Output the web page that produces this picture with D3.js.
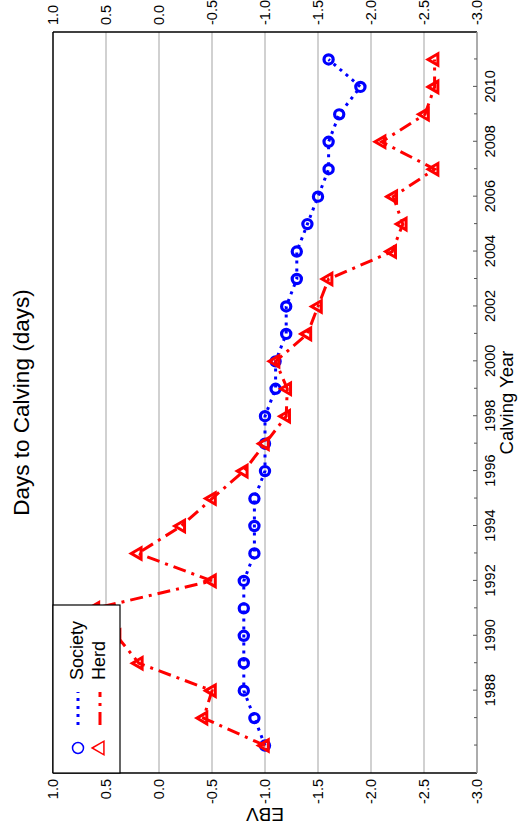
<!DOCTYPE html>
<html><head><meta charset="utf-8">
<script src="https://cdn.jsdelivr.net/npm/d3@7"></script>
<style>body{margin:0;background:#fff}</style>
</head><body>
<script>
// ---- data ----
const years = [1986,1987,1988,1989,1990,1991,1992,1993,1994,1995,1996,1997,1998,1999,2000,2001,2002,2003,2004,2005,2006,2007,2008,2009,2010,2011];
const society = [-1.0,-0.9,-0.8,-0.8,-0.8,-0.8,-0.8,-0.9,-0.9,-0.9,-1.0,-1.0,-1.0,-1.1,-1.1,-1.2,-1.2,-1.3,-1.3,-1.4,-1.5,-1.6,-1.6,-1.7,-1.9,-1.6];
const herd = [-1.0,-0.42,-0.5,0.19,0.4,0.6,-0.5,0.2,-0.21,-0.5,-0.8,-1.0,-1.2,-1.21,-1.1,-1.4,-1.5,-1.6,-2.2,-2.3,-2.21,-2.6,-2.1,-2.51,-2.6,-2.6];
const ebvTicks = [1.0,0.5,0.0,-0.5,-1.0,-1.5,-2.0,-2.5,-3.0];
const yearLabels = [1988,1990,1992,1994,1996,1998,2000,2002,2004,2006,2008,2010];
const seriesNames = ["Society","Herd"];
const title = "Days to Calving (days)";
const xTitle = "Calving Year";
const yTitle = "EBV";

// ---- layout (drawn landscape, then rotated) ----
const W = 518, H = 829;
const font = "'Liberation Sans', Arial, Helvetica, sans-serif";
const svg = d3.select("body").append("svg").attr("width", W).attr("height", H)
  .style("font-family", font);
svg.append("rect").attr("width", W).attr("height", H).attr("fill", "#fff");
const g = svg.append("g").attr("transform", `translate(0,${H}) rotate(-90)`);

const P = {left: 56, right: 797, top: 53, bottom: 477};
const x = d3.scaleLinear().domain([1985, 2012]).range([P.left, P.right]);
const y = d3.scaleLinear().domain([1.0, -3.0]).range([P.top, P.bottom]);

// gridlines
g.append("g").selectAll("line").data(ebvTicks.filter(t => t < 1 && t > -3)).join("line")
  .attr("x1", P.left).attr("x2", P.right)
  .attr("y1", d => y(d)).attr("y2", d => y(d))
  .attr("stroke", "#b8b8b8").attr("stroke-width", 1.3);

// frame
g.append("line").attr("x1", P.left).attr("x2", P.right).attr("y1", P.top).attr("y2", P.top).attr("stroke", "#000").attr("stroke-width", 1.5);
g.append("line").attr("x1", P.left).attr("x2", P.left).attr("y1", P.top).attr("y2", P.bottom).attr("stroke", "#000").attr("stroke-width", 1.5);
g.append("line").attr("x1", P.right).attr("x2", P.right).attr("y1", P.top).attr("y2", P.bottom).attr("stroke", "#000").attr("stroke-width", 1.5);
g.append("line").attr("x1", P.left).attr("x2", P.right).attr("y1", P.bottom).attr("y2", P.bottom).attr("stroke", "#909090").attr("stroke-width", 1.5);

// year axis
const yearAxis = d3.axisBottom(x).tickValues(years).tickSize(-4).tickPadding(8)
  .tickFormat(d => yearLabels.includes(d) ? String(d) : "");
const ya = g.append("g").attr("transform", `translate(0,${P.bottom})`).call(yearAxis);
ya.select(".domain").remove();
ya.selectAll(".tick line").attr("stroke", "#555").attr("y2", d => yearLabels.includes(d) ? -4 : -3);
ya.selectAll("text").attr("font-size", 14.5).attr("font-family", font).attr("fill", "#000");
ya.attr("font-family", font);

// EBV axes
const fmt = d => d.toFixed(1);
const la = g.append("g").attr("transform", `translate(${P.left},0)`)
  .call(d3.axisLeft(y).tickValues(ebvTicks).tickSize(0).tickPadding(6).tickFormat(fmt));
la.select(".domain").remove();
la.selectAll("text").attr("font-size", 14.5).attr("font-family", font).attr("fill", "#000");
const ra = g.append("g").attr("transform", `translate(${P.right},0)`)
  .call(d3.axisRight(y).tickValues(ebvTicks).tickSize(0).tickPadding(7).tickFormat(fmt));
ra.select(".domain").remove();
ra.selectAll("text").attr("font-size", 14.5).attr("font-family", font).attr("fill", "#000");

// titles
g.append("text").attr("x", (P.left + P.right) / 2).attr("y", 29).attr("text-anchor", "middle")
  .attr("font-size", 22.5).text(title);
g.append("text").attr("x", (P.left + P.right) / 2).attr("y", 513).attr("text-anchor", "middle")
  .attr("font-size", 18.5).text(xTitle);
g.append("text").attr("transform", `translate(21,${(P.top + P.bottom) / 2}) rotate(-90)`)
  .attr("text-anchor", "middle").attr("font-size", 19).text(yTitle);

// series
const soc = years.map((yr, i) => ({yr, v: society[i]}));
const hrd = years.map((yr, i) => ({yr, v: herd[i]}));
const line = d3.line().x(d => x(d.yr)).y(d => y(d.v));
const blue = "#0000ff", red = "#ff0000";
const triangle = d3.symbol().type(d3.symbolTriangle).size(56);

g.append("path").datum(soc).attr("d", line).attr("fill", "none")
  .attr("stroke", blue).attr("stroke-width", 3).attr("stroke-dasharray", "3,5");
g.append("g").selectAll("circle").data(soc).join("circle")
  .attr("cx", d => x(d.yr)).attr("cy", d => y(d.v)).attr("r", 4.6)
  .attr("fill", "none").attr("stroke", blue).attr("stroke-width", 3.2);

g.append("path").datum(hrd).attr("d", line).attr("fill", "none")
  .attr("stroke", red).attr("stroke-width", 3).attr("stroke-dasharray", "13,6,3,6");
g.append("g").selectAll("path").data(hrd).join("path")
  .attr("d", triangle).attr("transform", d => `translate(${x(d.yr)},${y(d.v)})`)
  .attr("fill", "none").attr("stroke", red).attr("stroke-width", 3).attr("stroke-linejoin", "miter");

// legend
const lg = g.append("g");
lg.append("rect").attr("x", P.left).attr("y", P.top).attr("width", 224 - P.left).attr("height", 120 - P.top)
  .attr("fill", "#fff").attr("stroke", "#000").attr("stroke-width", 1.2);
const rows = [78, 100];
const styles = [
  {c: blue, dash: "3,5", mark: "circle"},
  {c: red, dash: "13,6,3,6", mark: "tri"}
];
seriesNames.forEach((name, i) => {
  const ry = rows[i], s = styles[i];
  if (s.mark === "circle") {
    lg.append("circle").attr("cx", 81).attr("cy", ry).attr("r", 5.5).attr("fill", "none").attr("stroke", s.c).attr("stroke-width", 1.5);
  } else {
    lg.append("path").attr("d", d3.symbol().type(d3.symbolTriangle).size(80)).attr("transform", `translate(81,${ry})`)
      .attr("fill", "none").attr("stroke", s.c).attr("stroke-width", 1.5);
  }
  lg.append("line").attr("x1", 104).attr("x2", 137).attr("y1", ry).attr("y2", ry)
    .attr("stroke", s.c).attr("stroke-width", 3).attr("stroke-dasharray", s.dash);
  lg.append("text").attr("x", 149).attr("y", ry).attr("dy", "0.3em").attr("font-size", 18).text(name);
});
</script>
</body></html>
